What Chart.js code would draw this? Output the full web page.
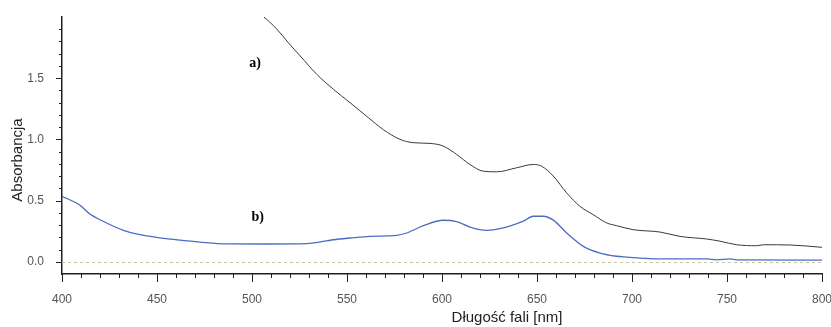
<!DOCTYPE html>
<html><head><meta charset="utf-8">
<script src="https://cdn.jsdelivr.net/npm/chart.js@4"></script>
<style>html,body{margin:0;padding:0;background:#fff}#wrap{width:831px;height:327px}</style>
</head><body><div id="wrap"><canvas id="c" width="831" height="327"></canvas></div>
<script>
// Curve a)
const wavelengthsA = [503, 505.9, 513, 519.1, 525.3, 534, 542.8, 551.6, 561.2, 569.1, 577.9, 584.9, 593.7, 600.7, 607.7, 614.7, 621.7, 628.8, 639.3, 648, 652.4, 658.6, 665.6, 672.6, 679.6, 686.7, 691.9, 700.7, 714.7, 725.3, 739.3, 746.3, 755.1, 765.6, 769.1, 783.2, 800];
const absorbanceA  = [2.04, 2.005, 1.902, 1.79, 1.683, 1.533, 1.41, 1.30, 1.178, 1.08, 1.0, 0.973, 0.967, 0.945, 0.877, 0.795, 0.740, 0.735, 0.768, 0.795, 0.781, 0.70, 0.563, 0.453, 0.385, 0.317, 0.295, 0.262, 0.243, 0.207, 0.186, 0.168, 0.139, 0.131, 0.139, 0.137, 0.118];
// Curve b)
const wavelengthsB = [400, 409.5, 414.7, 423.5, 432.3, 441, 449.8, 460.4, 472.6, 486.7, 507.7, 528.8, 542.8, 551.6, 562, 576.1, 581.4, 590.2, 600.7, 607.7, 614.7, 623.5, 630.5, 642.8, 648, 653.3, 658.6, 665.6, 674.4, 683.2, 691.9, 697.2, 711.2, 739.3, 744.6, 751.6, 755, 800];
const absorbanceB  = [0.535, 0.462, 0.39, 0.317, 0.257, 0.221, 0.199, 0.180, 0.161, 0.146, 0.145, 0.148, 0.180, 0.194, 0.208, 0.216, 0.235, 0.295, 0.339, 0.328, 0.284, 0.257, 0.27, 0.332, 0.372, 0.372, 0.34, 0.235, 0.126, 0.071, 0.045, 0.038, 0.024, 0.024, 0.016, 0.024, 0.016, 0.013];
// Tick labels
const xTickValues = [400, 450, 500, 550, 600, 650, 700, 750, 800];
const yTickValues = [0.0, 0.5, 1.0, 1.5];
const seriesNames = ['a)', 'b)'];
const xTitle = 'Długość fali [nm]';
const yTitle = 'Absorbancja';

const toPts = (xs, ys) => xs.map((x, i) => ({x, y: ys[i]}));

const tickFont = {family: '"Liberation Sans Narrow", "Liberation Sans", Arial, sans-serif', size: 12};

const decor = {
  id: 'decor',
  beforeDatasetsDraw(chart) {
    const {ctx, scales: {x, y}} = chart;
    const y0 = y.getPixelForValue(0);
    ctx.save();
    ctx.strokeStyle = '#c9c6a8';
    ctx.lineWidth = 1;
    ctx.setLineDash([3, 3]);
    ctx.beginPath();
    ctx.moveTo(x.getPixelForValue(400), Math.round(y0) + 0.5);
    ctx.lineTo(x.getPixelForValue(800), Math.round(y0) + 0.5);
    ctx.stroke();
    ctx.restore();
  },
  afterDraw(chart) {
    const {ctx, scales: {x, y}, chartArea} = chart;
    ctx.save();
    ctx.strokeStyle = '#222';
    ctx.lineWidth = 1;
    const by = chartArea.bottom;
    for (let i = 0; i <= 40; i++) {
      const v = 400 + i * 10;
      const px = Math.round(x.getPixelForValue(v)) + 0.5;
      const len = (i % 5 === 0) ? 8 : 4;
      ctx.beginPath(); ctx.moveTo(px, by); ctx.lineTo(px, by + len); ctx.stroke();
    }
    const lx = chartArea.left;
    for (let i = 0; i <= 19; i++) {
      const v = i / 10;
      const py = Math.round(y.getPixelForValue(v)) + 0.5;
      const len = (i % 5 === 0) ? 6 : 3;
      ctx.beginPath(); ctx.moveTo(lx, py); ctx.lineTo(lx - len, py); ctx.stroke();
    }
    // axis titles
    ctx.fillStyle = '#222';
    ctx.font = '15px "Liberation Sans", Arial, sans-serif';
    ctx.textAlign = 'center'; ctx.textBaseline = 'middle';
    ctx.fillText(xTitle, 507, 318);
    ctx.save();
    ctx.translate(18, 160); ctx.rotate(-Math.PI / 2);
    ctx.fillText(yTitle, 0, 0);
    ctx.restore();
    // curve labels
    ctx.fillStyle = '#000';
    ctx.font = 'bold 14px "Liberation Serif", "Times New Roman", serif';
    const labelPos = [[501.6, 1.62], [503, 0.36]];
    seriesNames.forEach((t, i) => {
      ctx.fillText(t, x.getPixelForValue(labelPos[i][0]), y.getPixelForValue(labelPos[i][1]));
    });
    ctx.restore();
  }
};

new Chart(document.getElementById('c'), {
  type: 'line',
  data: {
    datasets: [
      {label: seriesNames[0], data: toPts(wavelengthsA, absorbanceA), borderColor: '#3a3a3a', borderWidth: 1, pointRadius: 0, cubicInterpolationMode: 'monotone', fill: false},
      {label: seriesNames[1], data: toPts(wavelengthsB, absorbanceB), borderColor: '#4a6cc4', borderWidth: 1.3, pointRadius: 0, cubicInterpolationMode: 'monotone', fill: false}
    ]
  },
  options: {
    responsive: false, animation: false, devicePixelRatio: 1,
    layout: {padding: {top: 17, right: 9, left: 0, bottom: 0}},
    plugins: {legend: {display: false}, tooltip: {enabled: false}},
    scales: {
      x: {
        type: 'linear', min: 400, max: 800,
        grid: {display: false},
        border: {display: true, color: '#222', width: 1.5},
        afterBuildTicks: s => { s.ticks = xTickValues.map(v => ({value: v})); },
        ticks: {font: tickFont, color: '#555', padding: 10, maxRotation: 0, autoSkip: false, callback: v => String(v)},
        afterFit: s => { s.height = 53; s.paddingLeft = 0; s.paddingRight = 0; }
      },
      y: {
        type: 'linear', min: -0.1, max: 2.0,
        grid: {display: false},
        border: {display: true, color: '#222', width: 1.5},
        afterBuildTicks: s => { s.ticks = yTickValues.map(v => ({value: v})); },
        ticks: {font: tickFont, color: '#555', padding: 10, autoSkip: false, callback: v => v.toFixed(1)},
        afterFit: s => { s.width = 62; s.paddingTop = 0; s.paddingBottom = 0; }
      }
    }
  },
  plugins: [decor]
});
</script>
</body></html>
